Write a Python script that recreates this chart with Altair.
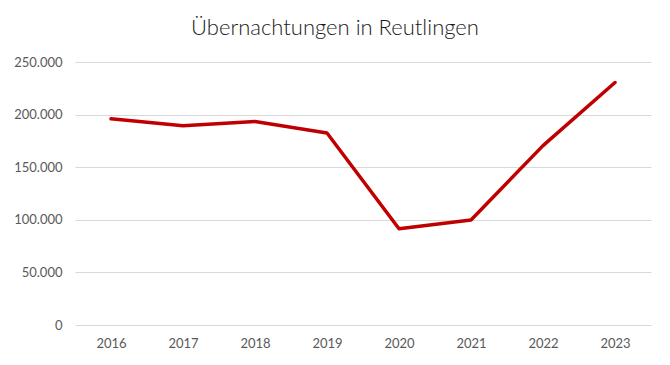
import altair as alt
import pandas as pd

years = ["2016", "2017", "2018", "2019", "2020", "2021", "2022", "2023"]
overnights = [196000, 189500, 193500, 182500, 91500, 99800, 170500, 230500]
y_ticks = [0, 50000, 100000, 150000, 200000, 250000]

df = pd.DataFrame({"Jahr": years, "Übernachtungen": overnights})

FONT = "Lato"
GREY = "#595959"

chart = alt.Chart(df).mark_line(
    color="#C00000", strokeWidth=3.5, strokeCap="round", strokeJoin="round"
).encode(
    x=alt.X("Jahr:O", sort=years, scale=alt.Scale(type="point", padding=0.5),
            axis=alt.Axis(title=None, labelAngle=0, ticks=False, domain=False,
                          labelPadding=12, labelFontSize=13, labelColor=GREY,
                          labelFont=FONT)),
    y=alt.Y("Übernachtungen:Q", scale=alt.Scale(domain=[0, 250000], nice=False),
            axis=alt.Axis(title=None, values=y_ticks, ticks=False, domain=False,
                          grid=True, gridColor="#d9d9d9", gridWidth=1,
                          labelPadding=13, labelFontSize=13, labelColor=GREY,
                          labelFont=FONT,
                          labelExpr="replace(format(datum.value, ',d'), /,/g, '.')")),
).properties(
    width=576,
    height=263,
    title=alt.TitleParams("Übernachtungen in Reutlingen", font=FONT, fontSize=22,
                          fontWeight=300, color="#1a1a1a", anchor="middle",
                          offset=16, dx=-28),
    autosize=alt.AutoSizeParams(type="none"),
    padding={"left": 67, "top": 54, "right": 11, "bottom": 32},
).configure_view(stroke=None)

chart.save("out.html", embed_options={"renderer": "svg", "actions": False})
